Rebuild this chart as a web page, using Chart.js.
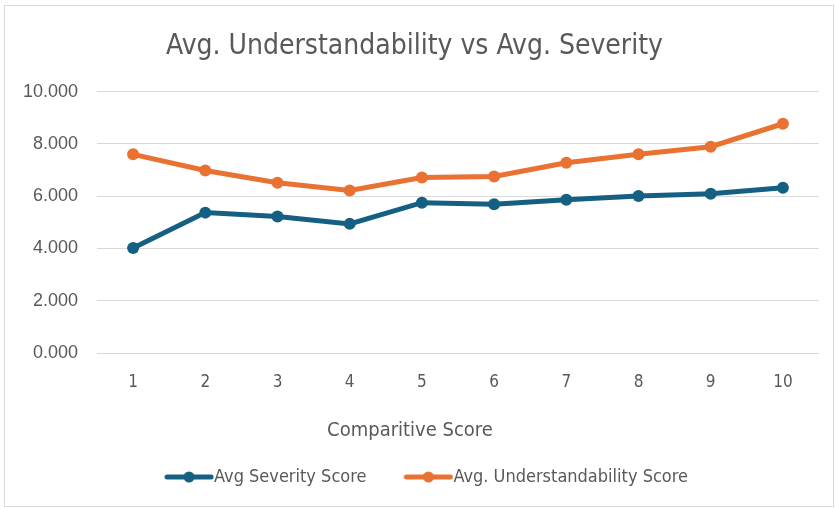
<!DOCTYPE html>
<html lang="en">
<head>
    <meta charset="UTF-8">
    <title>Avg. Understandability vs Avg. Severity</title>
    <script src="https://cdn.jsdelivr.net/npm/chart.js"></script>
    <style>
        body {
            margin: 0;
            background: #ffffff;
        }
        .wrap {
            position: relative;
            width: 835px;
            height: 508px;
        }
        .frame {
            position: absolute;
            left: 4px;
            top: 5px;
            width: 828px;
            height: 500px;
            border: 1px solid #d9d9d9;
            pointer-events: none;
        }
    </style>
</head>
<body>
    <div class="wrap">
        <canvas id="scoreChart" width="835" height="508"></canvas>
        <div class="frame"></div>
    </div>
    <script>
        // data
        const scores = ['1', '2', '3', '4', '5', '6', '7', '8', '9', '10'];
        const severity = [4.02, 5.37, 5.22, 4.94, 5.75, 5.69, 5.86, 6.01, 6.09, 6.32];
        const understandability = [7.60, 6.98, 6.51, 6.22, 6.71, 6.75, 7.28, 7.60, 7.89, 8.77];
        const yTicks = [0, 2, 4, 6, 8, 10];

        const blue = '#156082';
        const orange = '#e97132';
        const grey = '#595959';
        const narrow = '"Liberation Sans Narrow", "DejaVu Sans Condensed", "Liberation Sans", sans-serif';

        // legend marker: thick line with a dot in the middle
        function marker(color) {
            const c = document.createElement('canvas');
            c.width = 50;
            c.height = 14;
            const g = c.getContext('2d');
            g.strokeStyle = color;
            g.lineWidth = 5;
            g.lineCap = 'round';
            g.beginPath();
            g.moveTo(3, 7);
            g.lineTo(47, 7);
            g.stroke();
            g.fillStyle = color;
            g.beginPath();
            g.arc(25, 7, 5.5, 0, Math.PI * 2);
            g.fill();
            return c;
        }

        // the original has the legend a bit right and the x title a bit left of centre
        const nudge = {
            id: 'nudge',
            afterLayout(chart) {
                chart.legend.left += 16;
                chart.legend.right += 16;
                chart.scales.x.left -= 48;
                chart.scales.x.right -= 48;
            }
        };

        const ctx = document.getElementById('scoreChart').getContext('2d');
        new Chart(ctx, {
            type: 'line',
            data: {
                labels: scores,
                datasets: [{
                    label: 'Avg Severity Score',
                    data: severity,
                    borderColor: blue,
                    backgroundColor: blue,
                    borderWidth: 5,
                    pointRadius: 6,
                    pointBackgroundColor: blue,
                    pointBorderWidth: 0,
                    pointStyle: 'circle',
                    tension: 0,
                    clip: false
                }, {
                    label: 'Avg. Understandability Score',
                    data: understandability,
                    borderColor: orange,
                    backgroundColor: orange,
                    borderWidth: 5,
                    pointRadius: 6,
                    pointBackgroundColor: orange,
                    pointBorderWidth: 0,
                    pointStyle: 'circle',
                    tension: 0,
                    clip: false
                }]
            },
            plugins: [nudge],
            options: {
                responsive: false,
                animation: false,
                layout: {
                    padding: { left: 10, right: 16, top: 0, bottom: 12 }
                },
                plugins: {
                    title: {
                        display: true,
                        text: 'Avg. Understandability vs Avg. Severity',
                        color: grey,
                        font: { family: narrow, size: 28, weight: 'normal' },
                        padding: { top: 30, bottom: 28 }
                    },
                    legend: {
                        position: 'bottom',
                        labels: {
                            color: grey,
                            font: { family: narrow, size: 18 },
                            usePointStyle: true,
                            pointStyleWidth: 32,
                            padding: 46,
                            generateLabels(chart) {
                                return chart.data.datasets.map((ds, i) => ({
                                    text: ds.label,
                                    fontColor: grey,
                                    pointStyle: marker(ds.borderColor),
                                    datasetIndex: i,
                                    hidden: false,
                                    lineWidth: 0
                                }));
                            }
                        }
                    },
                    tooltip: { enabled: false }
                },
                scales: {
                    x: {
                        offset: true,
                        grid: { display: false },
                        border: { display: false },
                        ticks: {
                            color: grey,
                            font: { family: narrow, size: 17 },
                            padding: 11
                        },
                        title: {
                            display: true,
                            text: 'Comparitive Score',
                            color: grey,
                            font: { family: narrow, size: 20 },
                            padding: { top: 15, bottom: -21 }
                        },
                        afterFit(scale) {
                            scale.height = 69;
                        }
                    },
                    y: {
                        min: yTicks[0],
                        max: yTicks[yTicks.length - 1],
                        afterBuildTicks(scale) {
                            scale.ticks = yTicks.map(v => ({ value: v }));
                        },
                        grid: {
                            color: '#d9d9d9',
                            lineWidth: 1,
                            drawTicks: false
                        },
                        border: { display: false },
                        ticks: {
                            color: grey,
                            font: { family: '"Liberation Sans", Arial, sans-serif', size: 18 },
                            padding: 19,
                            callback: v => Number(v).toFixed(3)
                        },
                        afterFit(scale) {
                            scale.width = 87;
                        }
                    }
                }
            }
        });
    </script>
</body>
</html>
